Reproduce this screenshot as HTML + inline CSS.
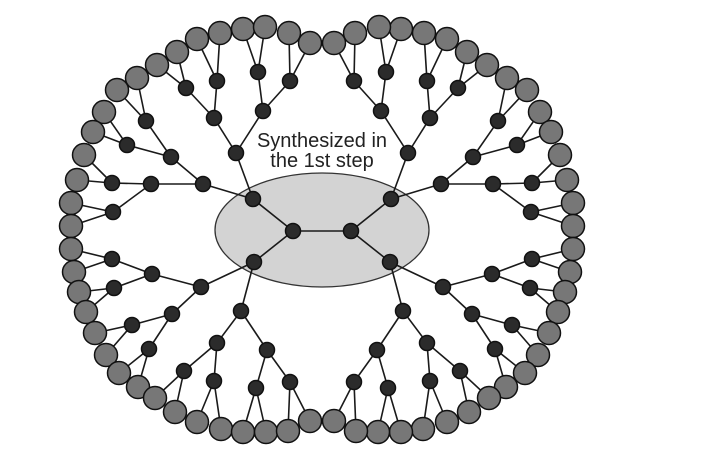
<!DOCTYPE html>
<html><head><meta charset="utf-8"><style>
html,body{margin:0;padding:0;background:#fff;width:711px;height:461px;overflow:hidden}
svg{display:block}
text{font-family:"Liberation Sans",Arial,sans-serif;font-size:20px;fill:#222}
</style></head><body>
<svg id="s" width="711" height="461" viewBox="0 0 711 461">
<ellipse cx="322" cy="230" rx="107" ry="57" fill="#d3d3d3" stroke="#333" stroke-width="1.3"/>
<g id="lines" stroke="#1a1a1a" stroke-width="1.6"></g>
<g id="nodes" stroke="#111" stroke-width="1.5"></g>
<text x="322" y="147" text-anchor="middle">Synthesized in</text>
<text x="322" y="167" text-anchor="middle">the 1st step</text>
</svg>
<script>
var tree=[
 [[253,199],[
  [[236,153],[
    [[214,118],[[[186,88],[[157,65],[177,52]]],[[217,81],[[197,39],[220,33]]]]],
    [[263,111],[[[258,72],[[243,29],[265,27]]],[[290,81],[[289,33],[310,43]]]]]
  ]],
  [[203,184],[
    [[171,157],[[[146,121],[[137,78],[117,90]]],[[127,145],[[104,112],[93,132]]]]],
    [[151,184],[[[112,183],[[84,155],[77,180]]],[[113,212],[[71,203],[71,226]]]]]
  ]]
 ]],
 [[254,262],[
  [[201,287],[
    [[152,274],[[[112,259],[[71,249],[74,272]]],[[114,288],[[79,292],[86,312]]]]],
    [[172,314],[[[132,325],[[95,333],[106,355]]],[[149,349],[[119,373],[138,387]]]]]
  ]],
  [[241,311],[
    [[217,343],[[[184,371],[[155,398],[175,412]]],[[214,381],[[197,422],[221,429]]]]],
    [[267,350],[[[256,388],[[243,432],[266,432]]],[[290,382],[[288,431],[310,421]]]]]
  ]]
 ]]
];
var NS="http://www.w3.org/2000/svg",L=document.getElementById("lines"),N=document.getElementById("nodes");
function line(a,b){var e=document.createElementNS(NS,"line");e.setAttribute("x1",a[0]);e.setAttribute("y1",a[1]);e.setAttribute("x2",b[0]);e.setAttribute("y2",b[1]);L.appendChild(e);}
function circ(p,r,f){var e=document.createElementNS(NS,"circle");e.setAttribute("cx",p[0]);e.setAttribute("cy",p[1]);e.setAttribute("r",r);e.setAttribute("fill",f);N.appendChild(e);}
function walk(node,parent,m){
  var p=node[0];var q=m?[644-p[0],p[1]]:p;
  line(parent,q);circ(q,7.5,"#2b2b2b");
  var ch=node[1];
  for(var i=0;i<ch.length;i++){
    var c=ch[i];
    if(typeof c[0]==="number"){var g=m?[644-c[0],c[1]]:c;line(q,g);circ(g,11.5,"#777");}
    else walk(c,q,m);
  }
}
line([293,231],[351,231]);
for(var m=0;m<2;m++){var core=m?[351,231]:[293,231];for(var i=0;i<tree.length;i++)walk(tree[i],core,m);}
circ([293,231],7.5,"#2b2b2b");circ([351,231],7.5,"#2b2b2b");
</script>
</body></html>
